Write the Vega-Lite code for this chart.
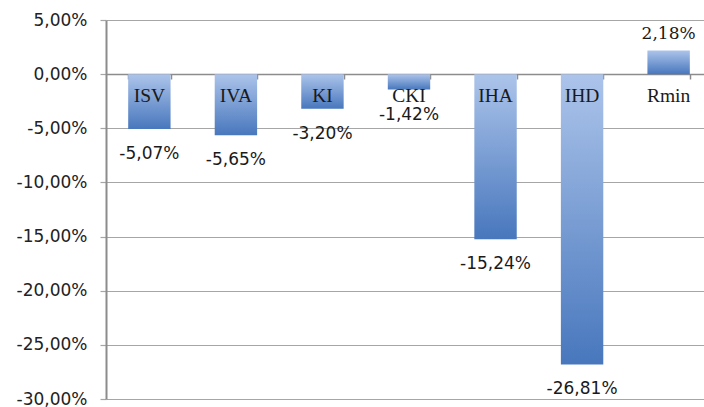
{
  "$schema": "https://vega.github.io/schema/vega-lite/v6.json",
  "autosize": "none",
  "width": 598,
  "height": 379,
  "padding": {"left": 106, "top": 20, "right": 0, "bottom": 8},
  "background": "white",
  "data": {
    "values": [
      {"cat": "ISV", "v": -0.0507},
      {"cat": "IVA", "v": -0.0565},
      {"cat": "KI", "v": -0.0320},
      {"cat": "CKI", "v": -0.0142},
      {"cat": "IHA", "v": -0.1524},
      {"cat": "IHD", "v": -0.2681},
      {"cat": "Rmin", "v": 0.0218}
    ]
  },
  "encoding": {
    "x": {
      "field": "cat",
      "type": "nominal",
      "sort": null,
      "scale": {"paddingInner": 0.51, "paddingOuter": 0.21, "align": 0.61},
      "axis": {
        "title": null,
        "labels": false,
        "orient": "bottom",
        "offset": -325,
        "tickBand": "extent",
        "ticks": true,
        "tickSize": 5,
        "tickColor": "#8c8c8c",
        "tickWidth": 1.5,
        "domain": true,
        "domainColor": "#8c8c8c",
        "domainWidth": 1.5,
        "grid": false
      }
    }
  },
  "layer": [
    {
      "mark": {
        "type": "bar",
        "color": {
          "gradient": "linear",
          "x1": 0, "y1": 0, "x2": 0, "y2": 1,
          "stops": [
            {"offset": 0, "color": "#acc4ea"},
            {"offset": 1, "color": "#4877bd"}
          ]
        }
      },
      "encoding": {
        "y": {
          "field": "v",
          "type": "quantitative",
          "scale": {"domain": [-0.3, 0.05], "nice": false, "zero": false},
          "axis": {
            "title": null,
            "values": [-0.3, -0.25, -0.2, -0.15, -0.1, -0.05, 0, 0.05],
            "format": ".2%",
            "grid": true,
            "gridColor": "#a6a6a6",
            "gridWidth": 1.2,
            "domain": true,
            "domainColor": "#8c8c8c",
            "domainWidth": 2,
            "ticks": true,
            "tickSize": 6,
            "tickColor": "#a6a6a6",
            "tickWidth": 1.2,
            "labelPadding": 13,
            "labelFont": "DejaVu Sans",
            "labelFontSize": 17,
            "labelColor": "#222222"
          }
        }
      }
    },
    {
      "mark": {"type": "text", "font": "Liberation Serif", "fontSize": 19.5, "baseline": "alphabetic", "dy": 28, "color": "#1a1a1a"},
      "encoding": {
        "y": {"datum": 0, "type": "quantitative"},
        "text": {"field": "cat"}
      }
    },
    {
      "transform": [{"filter": "datum.v < 0"}],
      "mark": {"type": "text", "font": "DejaVu Sans", "fontSize": 17, "baseline": "alphabetic", "dy": 30, "color": "#1a1a1a"},
      "encoding": {
        "y": {"field": "v", "type": "quantitative"},
        "text": {"field": "v", "type": "quantitative", "format": ".2%"}
      }
    },
    {
      "transform": [{"filter": "datum.v > 0"}],
      "mark": {"type": "text", "font": "DejaVu Serif", "fontSize": 17, "baseline": "alphabetic", "dy": -12, "color": "#1a1a1a"},
      "encoding": {
        "y": {"field": "v", "type": "quantitative"},
        "text": {"field": "v", "type": "quantitative", "format": ".2%"}
      }
    }
  ],
  "config": {
    "view": {"stroke": null},
    "locale": {
      "number": {"decimal": ",", "thousands": ".", "grouping": [3], "currency": ["", " €"], "minus": "-"}
    }
  }
}
